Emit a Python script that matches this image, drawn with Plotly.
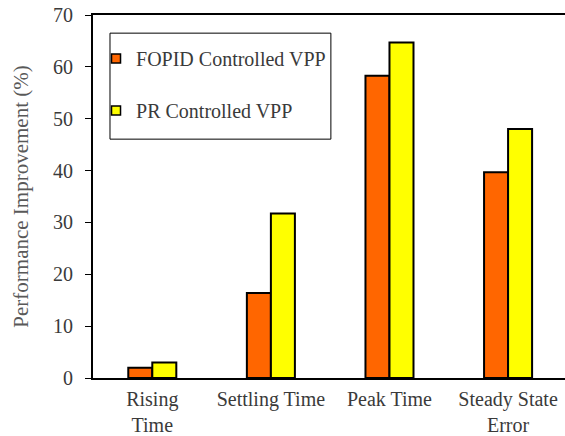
import plotly.graph_objects as go

categories = ["Rising<br>Time", "Settling Time", "Peak Time", "Steady State<br>Error"]
fopid_values = [2.0, 16.4, 58.3, 39.7]
pr_values = [3.0, 31.7, 64.7, 48.0]
series_names = ["FOPID Controlled VPP", "PR Controlled VPP"]
series_colors = ["#FF6600", "#FFFF00"]
y_ticks = [0, 10, 20, 30, 40, 50, 60, 70]

font_family = "Liberation Serif, Times New Roman, serif"
text_color = "#3a3a3a"

fig = go.Figure()
for vals, name, col in zip([fopid_values, pr_values], series_names, series_colors):
    fig.add_trace(go.Bar(x=categories, y=vals, name=name, showlegend=False,
                         marker=dict(color=col, line=dict(color="black", width=2))))
# legend-only entries with small square swatches
for i, (name, col) in enumerate(zip(series_names, series_colors)):
    fig.add_trace(go.Scatter(x=[None], y=[None], mode="markers", name=name,
                             legendgroup=f"g{i}",
                             marker=dict(symbol="square", size=9, color=col,
                                         line=dict(color="black", width=1.5))))

# legend frame
fig.add_shape(type="rect", xref="paper", yref="paper",
              x0=0.036, x1=0.504, y0=0.658, y1=0.950,
              line=dict(color="black", width=1), fillcolor="rgba(0,0,0,0)", layer="above")

fig.update_layout(
    width=565, height=436,
    margin=dict(l=93, r=0, t=15, b=58),
    paper_bgcolor="white", plot_bgcolor="white",
    barmode="group", bargap=0.595, bargroupgap=0,
    font=dict(family=font_family, size=20, color=text_color),
    showlegend=True,
    legend=dict(x=0.0064, y=0.934, xanchor="left", yanchor="top",
                borderwidth=0, bgcolor="rgba(0,0,0,0)",
                font=dict(family=font_family, size=20, color=text_color),
                tracegroupgap=23, itemwidth=30, traceorder="grouped"),
    xaxis=dict(range=[-0.5, 3.48], showline=True, linecolor="black", linewidth=2,
               mirror=True, ticks="", showgrid=False, automargin=False,
               ticklabelstandoff=2,
               tickfont=dict(family=font_family, size=20, color=text_color)),
    yaxis=dict(range=[0, 70], tickvals=y_ticks, showline=True, linecolor="black",
               linewidth=2, ticks="outside", ticklen=6, tickwidth=1, tickcolor="black",
               ticklabelstandoff=8,
               showgrid=False, zeroline=False, automargin=False,
               tickfont=dict(family=font_family, size=20, color=text_color),
               title=dict(text="Performance Improvement (%)", standoff=19,
                          font=dict(family=font_family, size=21, color="#595959"))),
)

fig.write_html("out.html", config={"displayModeBar": False},
               post_script="document.body.style.margin='0';document.body.style.overflow='hidden';")
